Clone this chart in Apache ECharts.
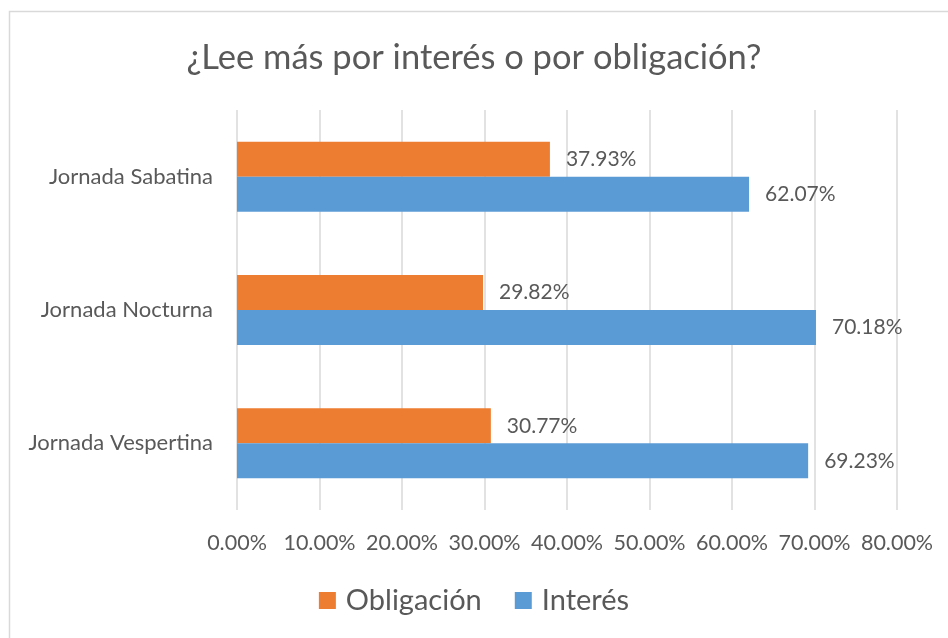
<!DOCTYPE html>
<html>
<head>
<meta charset="utf-8">
<script src="https://cdn.jsdelivr.net/npm/echarts@6/dist/echarts.min.js"></script>
<style>
html,body{margin:0;padding:0;background:#fff;}
#chart{width:948px;height:638px;}
</style>
</head>
<body>
<div id="chart"></div>
<script>
const titleText = '¿Lee más por interés o por obligación?';
const categories = ['Jornada Sabatina', 'Jornada Nocturna', 'Jornada Vespertina'];
const seriesNames = ['Obligación', 'Interés'];
const obligacion = [37.93, 29.82, 30.77];
const interes = [62.07, 70.18, 69.23];
const xTicks = { min: 0, max: 80, interval: 10 };

const FONT = 'Lato';
const TXT = '#595959';
const chart = echarts.init(document.getElementById('chart'));
const labelCfg = {
  show: true, position: 'right', distance: 16,
  color: TXT, fontFamily: FONT, fontSize: 21,
  formatter: p => p.value.toFixed(2) + '%'
};
chart.setOption({
  animation: false,
  backgroundColor: '#fff',
  graphic: [{
    type: 'rect', shape: { x: 9.5, y: 11.5, width: 1000, height: 1000 },
    style: { fill: 'none', stroke: '#d9d9d9', lineWidth: 1.5 }, z: -10
  }],
  title: {
    text: titleText, left: 'center', top: 35,
    textStyle: { fontFamily: FONT, fontSize: 34.5, fontWeight: 'normal', color: TXT }
  },
  legend: {
    data: seriesNames, top: 581, left: 'center',
    itemWidth: 17, itemHeight: 17, itemGap: 33, icon: 'rect',
    textStyle: { fontFamily: FONT, fontSize: 29, color: TXT, padding: [0, 0, 0, 5] }
  },
  grid: { left: 237, right: 51, top: 110, bottom: 128, containLabel: false },
  xAxis: {
    type: 'value', min: xTicks.min, max: xTicks.max, interval: xTicks.interval,
    axisLine: { show: false }, axisTick: { show: false },
    splitLine: { lineStyle: { color: '#d9d9d9', width: 1.5 } },
    axisLabel: { fontFamily: FONT, fontSize: 21.5, color: TXT, margin: 22,
      formatter: v => v.toFixed(2) + '%' }
  },
  yAxis: {
    type: 'category', data: categories, inverse: true,
    axisLine: { show: false }, axisTick: { show: false },
    axisLabel: { fontFamily: FONT, fontSize: 22, color: TXT, margin: 24 }
  },
  series: [
    { name: seriesNames[0], type: 'bar', data: obligacion, barGap: '0%', barCategoryGap: '47.5%',
      itemStyle: { color: '#ED7D31' }, label: labelCfg },
    { name: seriesNames[1], type: 'bar', data: interes, barGap: '0%', barCategoryGap: '47.5%',
      itemStyle: { color: '#5B9BD5' }, label: labelCfg }
  ]
});
</script>
</body>
</html>
